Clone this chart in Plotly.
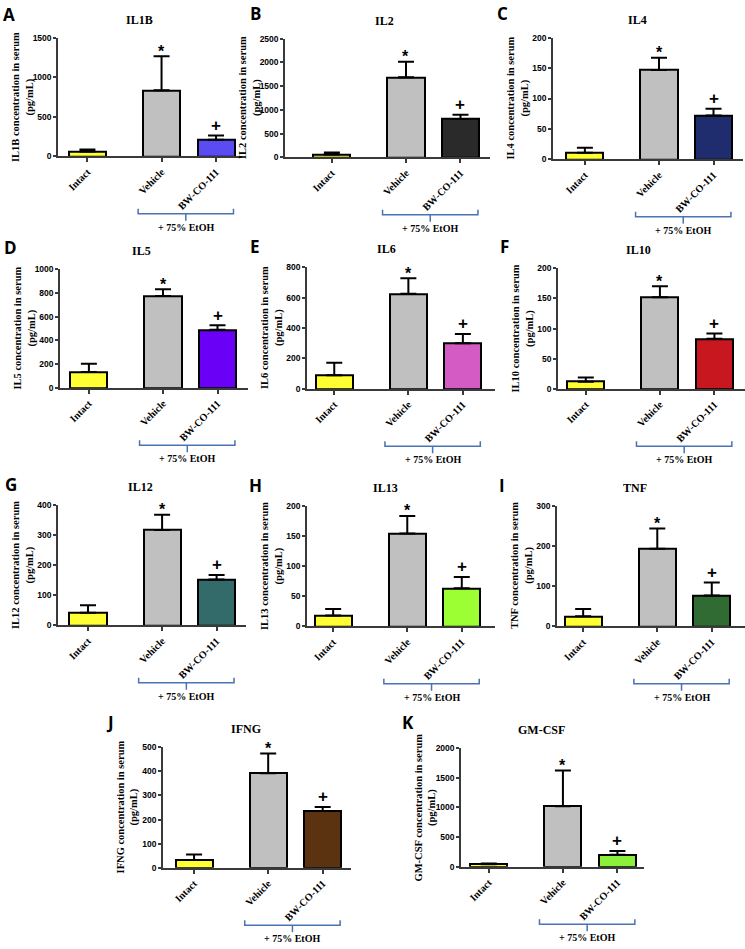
import plotly.graph_objects as go

# ---------------- data ----------------
cytokines = ["IL1B", "IL2", "IL4", "IL5", "IL6", "IL10", "IL12", "IL13", "TNF", "IFNG", "GM-CSF"]
panel_letters = ["A", "B", "C", "D", "E", "F", "G", "H", "I", "J", "K"]
groups = ["Intact", "Vehicle", "BW-CO-111"]

intact_mean = [62, 63, 11, 135, 90, 12, 42, 18, 25, 32, 45]
intact_err = [25, 41, 8, 68, 82, 7, 25, 11, 18, 23, 11]
vehicle_mean = [835, 1685, 147, 775, 625, 152, 316, 154, 193, 392, 1020]
vehicle_err = [430, 327, 20, 57, 103, 18, 51, 29, 50, 81, 602]
bw_mean = [210, 808, 72, 490, 300, 83, 152, 63, 77, 235, 205]
bw_err = [55, 90, 11, 38, 61, 9, 15, 19, 32, 17, 62]

y_max = [1500, 2500, 200, 1000, 800, 200, 400, 200, 300, 500, 2000]
y_step = [500, 500, 50, 200, 200, 50, 100, 50, 100, 100, 500]

intact_color = "#FFFF33"
vehicle_color = "#C0C0C0"
bw_colors = ["#5B4BF2", "#2A2A2A", "#1F2D6E", "#6A00F5", "#D55BC4", "#C8171E",
             "#336B6B", "#9BFF33", "#2F6B32", "#5C3311", "#8BF03C"]

treatment_label = "+ 75% EtOH"

# ---------------- layout constants ----------------
W, H = 745, 949
PX_PER_UNIT = 54.5
bar_pos = [0, 1.36, 2.36]
BAR_W = 0.68

# (x0, x1, ytop, ybot, xleft) in pixels / data units
panels_px = [
    (58, 242, 33, 153, -0.54),
    (285, 490, 34, 154, -0.86),
    (553, 743, 33, 156, -0.585),
    (60, 248, 267, 387, -0.53),
    (307, 495, 265, 388, -0.50),
    (558, 745, 266, 388, -0.51),
    (58, 246, 505, 627, -0.55),
    (307, 495, 506, 628, -0.48),
    (557, 745, 506, 628, -0.48),
    (163, 351, 750, 872, -0.57),
    (461, 644, 751, 871, -0.51),
]
letter_px = [(9, 10), (255, 9), (503, 9), (10, 245), (255, 244), (504, 244),
             (11, 485), (255, 486), (502, 486), (110, 725), (408, 725)]

AXC = "#3A3A3A"
SERIF = "Liberation Serif"
SANS = "Liberation Sans"
BRACKET = "#4A72B5"


def fx(p):
    return p / W


def fy(p):
    return 1 - p / H


fig = go.Figure()
annotations = []
shapes = []

for i, name in enumerate(cytokines):
    x0, x1, ytop, ybot, xl = panels_px[i]
    sfx = "" if i == 0 else str(i + 1)
    xa, ya = "x" + sfx, "y" + sfx
    means = [intact_mean[i], vehicle_mean[i], bw_mean[i]]
    errs = [intact_err[i], vehicle_err[i], bw_err[i]]

    fig.add_trace(go.Bar(
        x=bar_pos, y=means, width=BAR_W,
        marker=dict(color=[intact_color, vehicle_color, bw_colors[i]],
                    line=dict(color="black", width=2)),
        error_y=dict(type="data", symmetric=False, array=errs, arrayminus=[0, 0, 0],
                     color="black", thickness=2, width=8),
        xaxis=xa, yaxis=ya, showlegend=False, hoverinfo="skip",
    ))

    xr = [xl, xl + (x1 - x0) / PX_PER_UNIT]
    fig.update_layout(**{
        "xaxis" + sfx: dict(
            domain=[fx(x0), fx(x1)], range=xr, anchor=ya,
            tickmode="array", tickvals=bar_pos, ticktext=groups, tickangle=-45,
            ticks="outside", ticklen=4, tickwidth=1.5, tickcolor=AXC,
            showline=True, linecolor=AXC, linewidth=1.5,
            showgrid=False, zeroline=False,
            tickfont=dict(family=SERIF, size=10.2, color="black", weight="bold"),
        ),
        "yaxis" + sfx: dict(
            domain=[fy(ybot), fy(ytop)], range=[0, y_max[i]], anchor=xa,
            tick0=0, dtick=y_step[i],
            ticks="outside", ticklen=3, tickwidth=1.5, tickcolor=AXC,
            showline=True, linecolor=AXC, linewidth=1.5,
            showgrid=False, zeroline=False,
            tickfont=dict(family=SANS, size=8.5, color="black", weight="bold"),
        ),
    })

    # panel letter
    lx, ly = letter_px[i]
    annotations.append(dict(text=panel_letters[i], x=fx(lx), y=fy(ly), xref="paper", yref="paper",
                            showarrow=False, xanchor="center", yanchor="middle",
                            font=dict(family="Open Sans", size=17, color="black", weight="bold")))
    # title
    annotations.append(dict(text=name, x=bar_pos[1] - 0.4, y=fy(ytop - 18), xref=xa, yref="paper",
                            showarrow=False, xanchor="center", yanchor="middle",
                            font=dict(family=SERIF, size=12, color="black", weight="bold")))
    # y title
    annotations.append(dict(text=f"{name} concentration in serum<br>(pg/mL)",
                            x=fx(x0 - 35), y=fy((ytop + ybot) / 2), xref="paper", yref="paper",
                            showarrow=False, textangle=-90, xanchor="center", yanchor="middle",
                            font=dict(family=SERIF, size=10.5, color="black", weight="bold")))
    # significance marks
    annotations.append(dict(text="*", x=bar_pos[1], y=vehicle_mean[i] + vehicle_err[i], xref=xa, yref=ya,
                            showarrow=False, xanchor="center", yanchor="middle", yshift=5,
                            font=dict(family=SANS, size=16, color="black", weight="bold")))
    annotations.append(dict(text="+", x=bar_pos[2], y=bw_mean[i] + bw_err[i], xref=xa, yref=ya,
                            showarrow=False, xanchor="center", yanchor="middle", yshift=10,
                            font=dict(family=SANS, size=17, color="black", weight="bold")))

    # bracket under vehicle + BW
    bl = bar_pos[1] - 0.43
    br = bar_pos[2] + 0.32
    bm = (bl + br) / 2
    yl = fy(ybot + 58)
    ye = fy(ybot + 53)
    ys = fy(ybot + 65)
    shapes.append(dict(type="path", xref=xa, yref="paper",
                       path=f"M {bl},{ye} L {bl},{yl} L {br},{yl} L {br},{ye}",
                       line=dict(color=BRACKET, width=1.5)))
    shapes.append(dict(type="line", xref=xa, yref="paper", x0=bm, x1=bm, y0=yl, y1=ys,
                       line=dict(color=BRACKET, width=1.5)))
    annotations.append(dict(text=treatment_label, x=bm, y=fy(ybot + 71.5), xref=xa, yref="paper",
                            showarrow=False, xanchor="center", yanchor="middle",
                            font=dict(family=SERIF, size=10, color="black", weight="bold")))

fig.update_layout(
    width=W, height=H,
    margin=dict(l=0, r=0, t=0, b=0),
    paper_bgcolor="white", plot_bgcolor="white",
    annotations=annotations, shapes=shapes,
    bargap=0,
)

fig.write_html("out.html",
               config={"displayModeBar": False},
               post_script="document.body.style.margin='0';document.body.style.padding='0';")
